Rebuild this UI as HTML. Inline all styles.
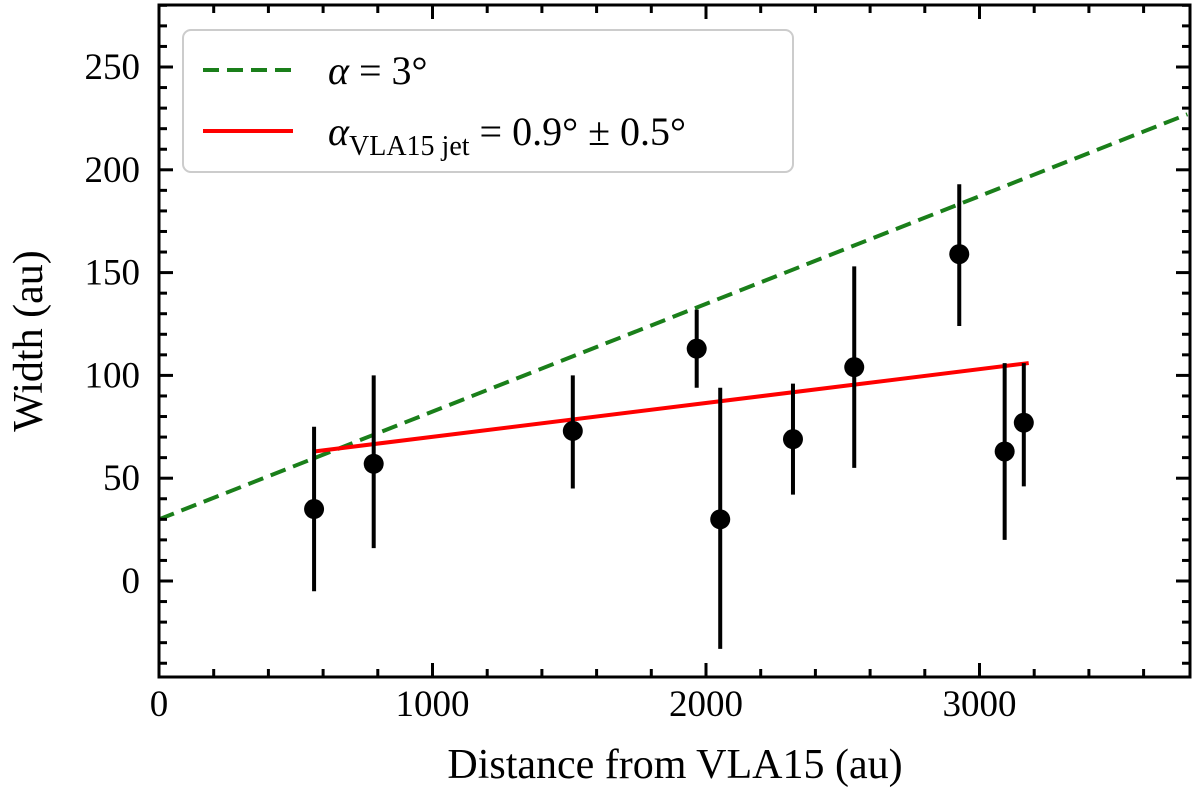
<!DOCTYPE html>
<html><head><meta charset="utf-8"><style>body{margin:0;background:#fff}svg{display:block}text{font-family:"Liberation Serif",serif;fill:#000}</style></head>
<body>
<svg id="c" width="1200" height="794"></svg>
<script>
const xs=[567,785,1513,1966,2052,2318,2542,2926,3092,3162];
const ys=[35,57,73,113,30,69,104,159,63,77];
const yHi=[75,100,100,132,94,96,153,193,106,106];
const yLo=[-5,16,45,94,-33,42,55,124,20,46];
const greenLine=[[0,30],[3760,227]];
const redLine=[[567,63],[3180,106]];
const xTicks=[0,1000,2000,3000];
const yTicks=[0,50,100,150,200,250];
const L=159,R=1190,T=5,B=677;
const X=v=>L+v*0.2735, Y=v=>581-v*2.056;
const ns='http://www.w3.org/2000/svg',svg=document.getElementById('c');
function el(t,a,p){const e=document.createElementNS(ns,t);for(const k in a)e.setAttribute(k,a[k]);(p||svg).appendChild(e);return e;}
const g=el('g',{});
for(let v=0;v<=3760;v+=200){const maj=v%1000==0,len=maj?14:8;
el('line',{x1:X(v),x2:X(v),y1:B,y2:B-len,stroke:'#000','stroke-width':3});
el('line',{x1:X(v),x2:X(v),y1:T,y2:T+len,stroke:'#000','stroke-width':3});}
for(let v=-40;v<=280;v+=10){const maj=v%50==0,len=maj?14:8;
el('line',{x1:L,x2:L+len,y1:Y(v),y2:Y(v),stroke:'#000','stroke-width':3});
el('line',{x1:R,x2:R-len,y1:Y(v),y2:Y(v),stroke:'#000','stroke-width':3});}
xTicks.forEach(v=>{const t=el('text',{x:X(v),y:716,'font-size':37,'text-anchor':'middle'});t.textContent=v;});
yTicks.forEach(v=>{const t=el('text',{x:140,y:Y(v)+12,'font-size':37,'text-anchor':'end'});t.textContent=v;});
const gl=el('line',{x1:X(greenLine[0][0]),y1:Y(greenLine[0][1]),x2:X(greenLine[1][0]),y2:Y(greenLine[1][1]),stroke:'#1a7f1a','stroke-width':4,'stroke-dasharray':'16,8'},g);

const rl=el('line',{x1:X(redLine[0][0]),y1:Y(redLine[0][1]),x2:X(redLine[1][0]),y2:Y(redLine[1][1]),stroke:'#f00','stroke-width':4},g);

xs.forEach((x,i)=>{const e=el('line',{x1:X(x),x2:X(x),y1:Y(yHi[i]),y2:Y(yLo[i]),stroke:'#000','stroke-width':4},g);

const c=el('circle',{cx:X(x),cy:Y(ys[i]),r:10,fill:'#000'},g);
});
el('rect',{x:L,y:T,width:R-L,height:B-T,fill:'none',stroke:'#000','stroke-width':3});
const lg=el('g',{});
el('rect',{x:183,y:30,width:610,height:142,rx:8,fill:'#fff',stroke:'#ccc','stroke-width':2},lg);
el('line',{x1:203,x2:293,y1:70,y2:70,stroke:'#1a7f1a','stroke-width':4,'stroke-dasharray':'16,8'},lg);
el('line',{x1:203,x2:293,y1:131,y2:131,stroke:'#f00','stroke-width':4},lg);
let t=el('text',{x:328,y:84,'font-size':40},lg);t.innerHTML='<tspan font-style="italic">α</tspan> = 3°';
t=el('text',{x:328,y:145,'font-size':40},lg);t.innerHTML='<tspan font-style="italic">α</tspan><tspan font-size="28" dy="10">VLA15 jet</tspan><tspan dy="-10"> = 0.9° ± 0.5°</tspan>';
t=el('text',{x:675,y:778,'font-size':42,'text-anchor':'middle'});t.textContent='Distance from VLA15 (au)';
t=el('text',{x:0,y:0,'font-size':42,'text-anchor':'middle',transform:'translate(42,341) rotate(-90)'});t.textContent='Width (au)';
</script>
</body></html>
